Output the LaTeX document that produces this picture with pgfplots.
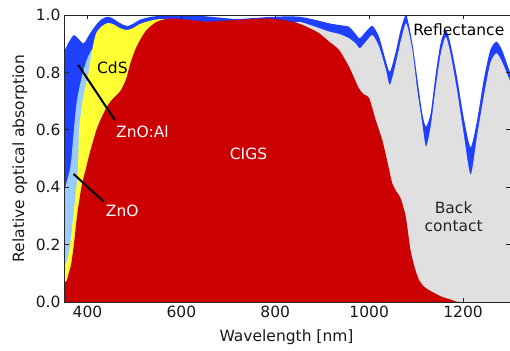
\documentclass[border=0pt]{standalone}
\usepackage{fontspec}
\setmainfont{DejaVu Sans}
\usepackage{pgfplots}
\pgfplotsset{compat=1.18}
\usetikzlibrary{calc}
\definecolor{cigs}{RGB}{204,0,0}
\definecolor{cds}{RGB}{255,255,51}
\definecolor{zno}{RGB}{153,204,255}
\definecolor{znoal}{RGB}{31,64,255}
\definecolor{backc}{RGB}{224,224,224}
\begin{document}
\begin{tikzpicture}[font=\fontsize{15.5}{18}\selectfont]
\begin{axis}[name=ax, scale only axis, width=446pt, height=287pt,
  xmin=350, xmax=1300, ymin=0, ymax=1, axis on top,
  tick align=inside, major tick length=4.5pt,
  axis line style={black!85, line width=0.9pt},
  every tick/.style={black!85, line width=0.9pt},
  xtick={400,600,800,1000,1200}, ytick={0,0.2,0.4,0.6,0.8,1},
  /pgf/number format/assume math mode=true,
  ticklabel style={font=\fontsize{15.5}{18}\selectfont, text=black!90},
  xticklabel style={/pgf/number format/1000 sep={}},
  yticklabel style={/pgf/number format/fixed, /pgf/number format/fixed zerofill, /pgf/number format/precision=1},
  xlabel={Wavelength [nm]}, ylabel={Relative optical absorption},
  every axis x label/.style={at={(axis description cs:0.499,-0.122)}, anchor=center, text=black!90},
  every axis y label/.style={at={(axis description cs:-0.099,0.5)}, rotate=90, anchor=center, text=black!90},
]
% Reflectance boundary (top of ZnO:Al band)
\addplot[draw=none, fill=znoal, smooth, tension=0.4] coordinates {
(350,0.872)(360,0.905)(371,0.930)(380,0.918)(392,0.901)(405,0.935)(418,0.965)(430,0.985)(443,0.994)(455,0.987)(465,0.976)(476,0.966)(486,0.962)(498,0.970)(511,0.983)(533,0.993)(555,0.997)(575,0.998)(600,0.998)(639,0.997)(680,0.991)(717,0.986)(750,0.989)(787,0.993)(820,0.995)(851,0.994)(880,0.985)(915,0.971)(936,0.965)(957,0.959)(971,0.934)(980,0.919)(993,0.942)(1007,0.962)(1021,0.924)(1035,0.843)(1044,0.802)(1056,0.867)(1067,0.948)(1079,1.0)(1092,0.901)(1102,0.785)(1113,0.657)(1121,0.611)(1131,0.657)(1141,0.785)(1152,0.901)(1163,0.948)(1173,0.901)(1187,0.785)(1201,0.646)(1216,0.539)(1230,0.634)(1244,0.774)(1258,0.878)(1271,0.907)(1283,0.878)(1300,0.80)
} \closedcycle;
% Back contact
\addplot[draw=none, fill=backc, smooth, tension=0.4] coordinates {
(830,0.965)(851,0.976)(880,0.962)(915,0.942)(936,0.934)(957,0.919)(971,0.901)(980,0.884)(993,0.907)(1007,0.930)(1021,0.890)(1035,0.814)(1044,0.756)(1056,0.826)(1067,0.907)(1079,0.971)(1092,0.878)(1102,0.745)(1113,0.623)(1121,0.541)(1131,0.611)(1141,0.739)(1152,0.861)(1163,0.924)(1173,0.867)(1187,0.739)(1201,0.590)(1216,0.443)(1230,0.580)(1244,0.715)(1258,0.832)(1271,0.867)(1283,0.837)(1300,0.77)
} \closedcycle;
% ZnO
\addplot[draw=none, fill=zno, smooth, tension=0.4] coordinates {
(350,0.373)(354,0.408)(364,0.475)(371,0.599)(377.6,0.704)(389.7,0.797)(400,0.850)(409,0.878)(415,0.880)
} \closedcycle;
% CdS
\addplot[draw=none, fill=cds, smooth, tension=0.4] coordinates {
(350,0.125)(356,0.14)(363,0.20)(370,0.303)(377,0.408)(380,0.477)(382,0.599)(390,0.704)(402,0.798)(410,0.878)(418,0.935)(430,0.960)(443,0.972)(455,0.968)(465,0.958)(476,0.950)(486,0.948)(498,0.955)(511,0.968)(533,0.980)(555,0.986)(575,0.984)(600,0.975)
} \closedcycle;
% CIGS
\addplot[draw=none, fill=cigs, smooth, tension=0.4] coordinates {
(350,0.066)(356,0.075)(360,0.10)(365,0.129)(371,0.199)(378,0.303)(388,0.408)(396,0.46)(405,0.52)(419,0.599)(432,0.65)(445,0.69)(458,0.715)(470,0.735)(482,0.775)(492,0.835)(502,0.88)(512,0.913)(526,0.948)(547,0.976)(575,0.988)(610,0.984)(652,0.977)(690,0.980)(716,0.983)(750,0.986)(787,0.988)(820,0.982)(851,0.970)(872,0.955)(893,0.937)(915,0.907)(936,0.878)(957,0.820)(978,0.745)(990,0.722)(1000,0.711)(1014,0.634)(1028,0.564)(1040,0.48)(1049,0.415)(1058,0.385)(1067,0.362)(1078,0.297)(1088,0.181)(1097,0.12)(1106,0.077)(1116,0.055)(1127,0.042)(1140,0.030)(1155,0.018)(1175,0.008)(1194,0.0)(1300,0.0)
} \closedcycle;
\draw[black, line width=2pt] (axis cs:380.4,0.826) -- (axis cs:458.3,0.634);
\draw[black, line width=2pt] (axis cs:370.4,0.446) -- (axis cs:434.9,0.349);
\node[text=black] at (axis cs:453,0.817) {CdS};
\node[text=white] at (axis cs:517,0.593) {ZnO:Al};
\node[text=white] at (axis cs:474,0.317) {ZnO};
\node[text=white] at (axis cs:743,0.516) {CIGS};
\node[text=black!85, align=center] at (axis cs:1180,0.296) {Back\\contact};
\node[text=black] at (axis cs:1191,0.948) {Reflectance};
\end{axis}
\pgfresetboundingbox
\path ($(ax.south west)+(-64pt,-48pt)$) rectangle ($(ax.north east)+(0pt,15pt)$);
\end{tikzpicture}
\end{document}
